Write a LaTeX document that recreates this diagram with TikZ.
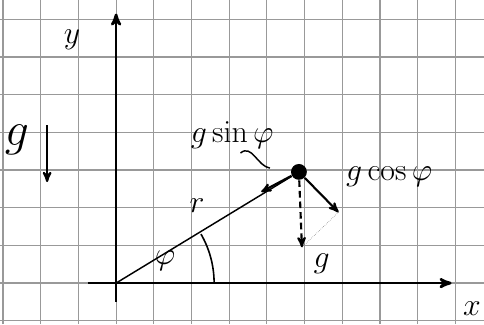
\RequirePackage{fix-cm}
\documentclass[tikz,border=0pt]{standalone}
\usepackage{amsmath,amssymb}
\usepackage{xcolor}
\usepackage{tikz}
\usetikzlibrary{arrows, positioning, calc}

\tikzset{
    axis/.style={->, line width=2pt},
    vec/.style={->, line width=1.6pt},
    lbl/.style={font=\fontsize{24}{24}\selectfont},
    gridline/.style={black!40, line width=0.9pt}
}

\begin{document}
\begin{tikzpicture}[auto, node distance=1cm, thick, >=stealth']
    \useasboundingbox (-3.08,-1.09) rectangle (9.76,7.51);
    \draw[gridline] (-3.08,-1.09) grid (9.76,7.51);

    \coordinate (O) at (0,0);
    \coordinate (Xstart) at (-0.75,0);
    \coordinate (Xend) at (8.9,0);
    \coordinate (Ystart) at (0,-0.5);
    \coordinate (Yend) at (0,7.15);
    \draw[axis] (Xstart) -- (Xend);
    \draw[axis] (Ystart) -- (Yend);
    \node (X) [lbl] at (9.44,-0.68) {$x$};
    \node (Y) [lbl] at (-1.17,6.45) {$y$};

    \node (Gleft) [font=\fontsize{36}{36}\selectfont] at (-2.63,3.8) {$g$};
    \coordinate (GdownA) at (-1.83,4.19);
    \coordinate (GdownB) at (-1.83,2.68);
    \draw[vec] (GdownA) -- (GdownB);

    \node (P) [circle, fill=black, inner sep=0pt, minimum size=0.42cm] at (4.85,2.95) {};
    \draw[line width=1.1pt] (O) -- (P);
    \node (R) [lbl] at (2.15,2.05) {$r$};
    \draw[line width=1.2pt] (2.6,0) arc[start angle=0, end angle=30, radius=2.6];
    \node (Phi) [lbl] at (1.3,0.58) {$\varphi$};

    \coordinate (SinTip) at (3.85,2.42);
    \coordinate (CosTip) at (5.9,1.88);
    \coordinate (GTip) at (4.93,0.95);
    \draw[vec] (P) -- (SinTip);
    \draw[vec] (P) -- (CosTip);
    \draw[vec, dash pattern=on 5pt off 3pt] (P) -- (GTip);
    \draw[densely dotted, black!55, thin] (GTip) -- (CosTip);

    \node (GSin) [lbl] at (3.08,3.93) {$g\sin\varphi$};
    \coordinate (SinPtrA) at (3.3,3.45);
    \coordinate (SinPtrB) at (4.08,3.05);
    \draw[line width=1.1pt] (SinPtrA) .. controls (3.6,3.7) and (3.75,3.1) .. (SinPtrB);
    \node (GCos) [lbl, right=0.9cm of P, yshift=-0.12cm] {$g\cos\varphi$};
    \node (G) [lbl] at (5.45,0.5) {$g$};
\end{tikzpicture}
\end{document}
